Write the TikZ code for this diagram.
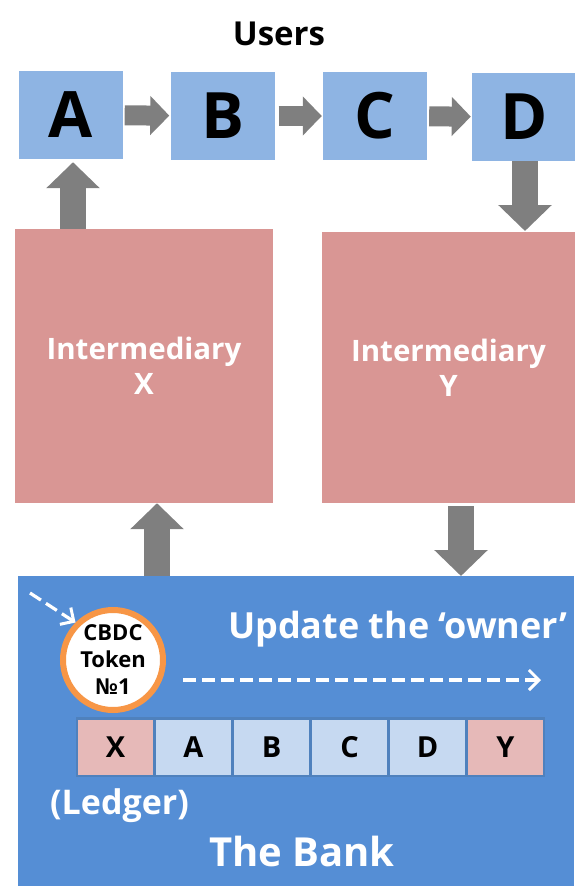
\documentclass[tikz,border=0pt]{standalone}
\usepackage{fontspec}
\setmainfont{Open Sans}
\usetikzlibrary{arrows.meta}
\definecolor{userblue}{HTML}{8EB4E3}
\definecolor{interred}{HTML}{D99694}
\definecolor{arrgray}{HTML}{7F7F7F}
\definecolor{bankblue}{HTML}{558ED5}
\definecolor{celllight}{HTML}{C6D9F1}
\definecolor{cellpink}{HTML}{E6B9B8}
\definecolor{cellborder}{HTML}{4F81BD}
\definecolor{tokenorange}{HTML}{F79646}
\newcommand{\fs}[1]{\fontsize{#1}{#1}\selectfont\bfseries}
\begin{document}
\begin{tikzpicture}[x=1pt,y=-1pt,
  userbox/.style={fill=userblue,minimum width=104pt,minimum height=88pt,inner sep=0pt,font=\fs{64}},
  interbox/.style={fill=interred,inner sep=0pt,text=white,align=center,font={\fontsize{29.5}{35}\selectfont\bfseries}},
  smallarr/.style={draw=arrgray,line width=20pt,-{Triangle[width=38pt,length=19pt]}},
  bigarr/.style={draw=arrgray,line width=26pt,-{Triangle[width=52pt,length=26pt]}},
  dasharr/.style={draw=white,line width=3.2pt,dash pattern=on 13pt off 6pt,-{Straight Barb[length=10pt,width=20pt,line width=3pt]}},
  cell/.style={minimum width=75pt,minimum height=55pt,inner sep=0pt,font=\fs{29}},
  whitetext/.style={text=white,inner sep=0pt}
]
\useasboundingbox (0,0) rectangle (574,886);
% users
\node[anchor=base,inner sep=0pt] (users) at (279,45) {\fs{33}Users};
\node[userbox] (A) at (70.5,115) {A};
\node[userbox] (B) at (222.5,116) {B};
\node[userbox] (C) at (375,116) {C};
\node[userbox] (D) at (524,117) {D};
\draw[smallarr,shorten <=2pt,shorten >=1pt] (A) -- (B);
\draw[smallarr,shorten <=4pt,shorten >=1pt] (B) -- (C);
\draw[smallarr,shorten <=2pt,shorten >=1pt] (C) -- (D);
% intermediaries
\coordinate (xup) at (73,232);
\coordinate (ydown) at (525,231);
\draw[bigarr,shorten >=3pt] (xup) -- (xup |- A.south);
\draw[bigarr] (D.south -| ydown) -- (ydown);
\node[interbox,minimum width=258pt,minimum height=274pt] (X) at (144,366) {Intermediary\\X};
\node[interbox,minimum width=253pt,minimum height=271pt] (Y) at (448.5,367.5) {Intermediary\\Y};
% bank
\node[fill=bankblue,minimum width=556pt,minimum height=310pt,inner sep=0pt] (bank) at (296,731) {};
\coordinate (bup) at (157,576);
\coordinate (bdown) at (461,576);
\draw[bigarr] (bup) -- (bup |- X.south);
\draw[bigarr,shorten <=3pt] (Y.south -| bdown) -- (bdown);
% token
\node[circle,fill=white,draw=tokenorange,line width=6pt,minimum size=100pt,inner sep=0pt,align=center,font={\fontsize{22}{27}\selectfont\bfseries}] (token) at (113,660) {CBDC\\Token\\№1};
\coordinate (tokstart) at (30,593);
\draw[dasharr] (tokstart) -- (token.135);
\node[whitetext,anchor=base west,font=\fs{36}] (update) at (228,638) {Update the ‘owner’};
\coordinate (dl1) at (183,680);
\coordinate (dl2) at (541,680);
\draw[dasharr] (dl1) -- (dl2);
% ledger
\node[fill=cellborder,minimum width=469pt,minimum height=60pt,inner sep=0pt] (ledger) at (310.5,747) {};
\node[cell,fill=cellpink] (LX) at (115.5,747.5) {X};
\node[cell,fill=celllight] (LA) at (193.5,747.5) {A};
\node[cell,fill=celllight] (LB) at (271.5,747.5) {B};
\node[cell,fill=celllight] (LC) at (349.5,747.5) {C};
\node[cell,fill=celllight] (LD) at (427.5,747.5) {D};
\node[cell,fill=cellpink] (LY) at (505.5,747.5) {Y};
\node[whitetext,anchor=base west,font=\fs{34}] (ledgerlbl) at (50,814) {(Ledger)};
\node[whitetext,anchor=base,font=\fs{40}] (banklbl) at (302,866) {The Bank};
\end{tikzpicture}
\end{document}
